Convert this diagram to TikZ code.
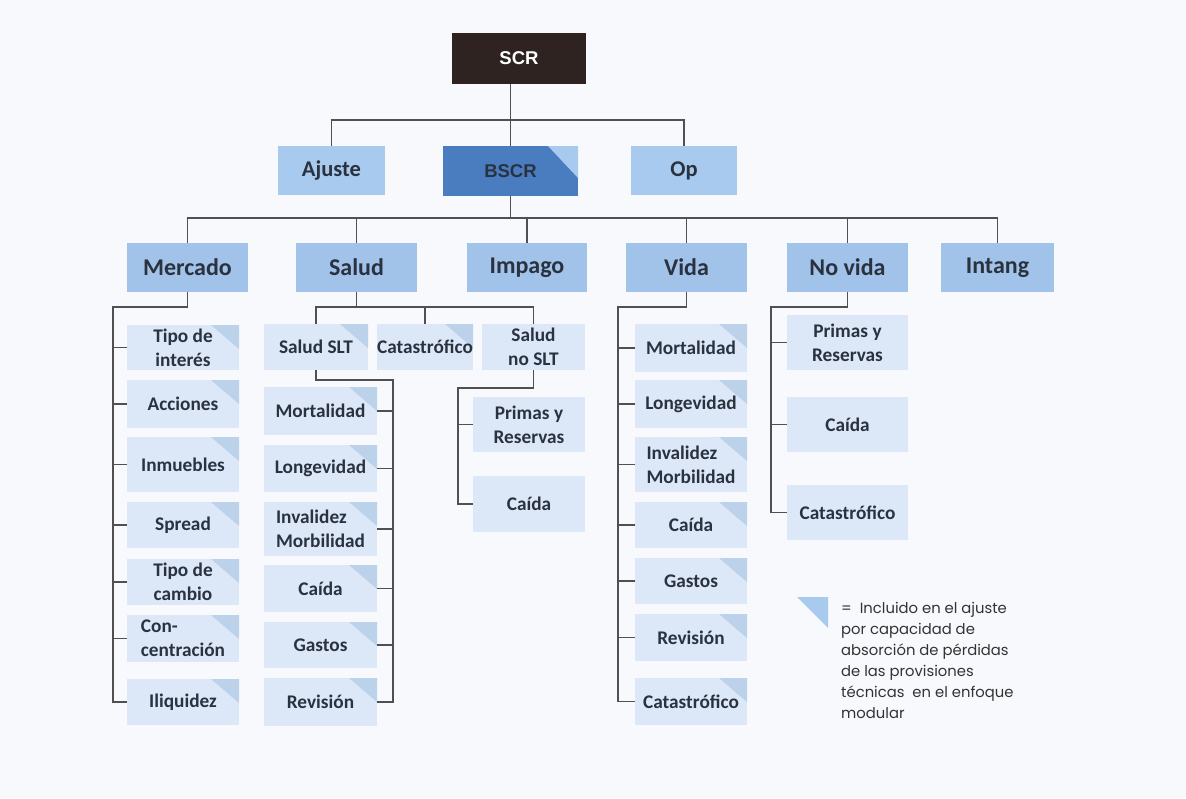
\documentclass[tikz,border=0pt]{standalone}
\usepackage{fontspec}
\newfontfamily\boxfont{Carlito}
\newfontfamily\headfont{Liberation Sans}
\newfontfamily\legfont{Poppins}
\usetikzlibrary{calc}

\definecolor{bgcol}{HTML}{F8F9FC}
\definecolor{topcol}{HTML}{2F2322}
\definecolor{midcol}{HTML}{A9CAEF}
\definecolor{bscrcol}{HTML}{4A7CC0}
\definecolor{rowcol}{HTML}{A2C3E9}
\definecolor{leafcol}{HTML}{DCE8F7}
\definecolor{tricol}{HTML}{BCD2EB}
\definecolor{txtcol}{HTML}{2A3240}
\definecolor{linecol}{HTML}{505050}

% place a box by its top-left and bottom-right corners
\newcommand\placebox[7]{%
  \node[#2, anchor=north west, minimum width={#5pt-#3pt}, minimum height={#6pt-#4pt}] (#1) at (#3,#4) {#7};}

\begin{document}
\begin{tikzpicture}[x=1pt,y=-1pt,
  base/.style={inner sep=0pt, outer sep=0pt, align=center, text=txtcol},
  topbox/.style={base, fill=topcol, text=white, font=\headfont\bfseries\fontsize{18.5}{22}\selectfont},
  midbox/.style={base, fill=midcol, font=\boxfont\bfseries\fontsize{22.5}{26}\selectfont},
  bscrbox/.style={base, fill=bscrcol, font=\headfont\bfseries\fontsize{18.5}{22}\selectfont,
    path picture={\fill[midcol] ([xshift=-30pt]path picture bounding box.north east) -- (path picture bounding box.north east) -- ([yshift=-32pt]path picture bounding box.north east) -- cycle;}},
  rowbox/.style={base, fill=rowcol, font=\boxfont\bfseries\fontsize{24}{28}\selectfont},
  leaf/.style={base, fill=leafcol, font=\boxfont\bfseries\fontsize{19.3}{24}\selectfont},
  leaftri/.style={leaf,
    path picture={\fill[tricol] ([xshift=-28pt]path picture bounding box.north east) -- (path picture bounding box.north east) -- ([yshift=-24pt]path picture bounding box.north east) -- cycle;}},
  conn/.style={draw=linecol, line width=1.1pt},
  legtext/.style={inner sep=0pt, anchor=north west, align=left, text=black!80,
    font=\legfont\fontsize{14.8}{21}\selectfont}
]
\useasboundingbox (0,0) rectangle (1186,798);
\fill[bgcol] (0,0) rectangle (1186,798);

% top levels
\placebox{scr}{topbox}{452}{33}{586}{84}{SCR}
\placebox{ajuste}{midbox}{278}{146}{385}{195}{Ajuste}
\placebox{bscr}{bscrbox}{443}{146}{578}{196}{BSCR}
\placebox{op}{midbox}{631}{146}{737}{195}{Op}

% risk modules
\placebox{mercado}{rowbox}{127}{243}{248}{292}{Mercado}
\placebox{salud}{rowbox}{296}{243}{417}{292}{Salud}
\placebox{impago}{rowbox}{467}{243}{587}{292}{Impago}
\placebox{vida}{rowbox}{626}{243}{747}{292}{Vida}
\placebox{novida}{rowbox}{787}{243}{908}{292}{No vida}
\placebox{intang}{rowbox}{941}{243}{1054}{292}{Intang}

% market sub-modules
\placebox{mti}{leaftri}{127}{325}{239}{370}{Tipo de\\interés}
\placebox{mac}{leaftri}{127}{380}{239}{428}{Acciones}
\placebox{min}{leaftri}{127}{437}{239}{492}{Inmuebles}
\placebox{msp}{leaftri}{127}{502}{239}{548}{Spread}
\placebox{mtc}{leaftri}{127}{559}{239}{605}{Tipo de\\cambio}
\placebox{mco}{leaftri,align=left}{127}{615}{239}{662}{Con-\\centración}
\placebox{mliq}{leaftri}{127}{679}{239}{725}{Iliquidez}

% health sub-modules
\placebox{sslt}{leaftri}{264}{324}{368}{370}{Salud SLT}
\placebox{scat}{leaftri}{377}{324}{473}{370}{Catastrófico}
\placebox{snoslt}{leaf}{482}{324}{585}{370}{Salud\\no SLT}

\placebox{smo}{leaftri}{264}{387}{377}{435}{Mortalidad}
\placebox{slo}{leaftri}{264}{445}{377}{492}{Longevidad}
\placebox{sin}{leaftri,align=left}{264}{502}{377}{556}{Invalidez\\Morbilidad}
\placebox{sca}{leaftri}{264}{565}{377}{612}{Caída}
\placebox{sga}{leaftri}{264}{622}{377}{668}{Gastos}
\placebox{sre}{leaftri}{264}{678}{377}{726}{Revisión}

\placebox{npr}{leaf}{473}{397}{585}{452}{Primas y\\Reservas}
\placebox{nca}{leaf}{473}{476}{585}{532}{Caída}

% life sub-modules
\placebox{vmo}{leaftri}{635}{324}{747}{372}{Mortalidad}
\placebox{vlo}{leaftri}{635}{380}{747}{428}{Longevidad}
\placebox{vin}{leaftri,align=left}{635}{437}{747}{492}{Invalidez\\Morbilidad}
\placebox{vca}{leaftri}{635}{502}{747}{548}{Caída}
\placebox{vga}{leaftri}{635}{558}{747}{604}{Gastos}
\placebox{vre}{leaftri}{635}{614}{747}{661}{Revisión}
\placebox{vcat}{leaftri}{635}{678}{747}{725}{Catastrófico}

% non-life sub-modules
\placebox{nvpr}{leaf}{787}{315}{908}{370}{Primas y\\Reservas}
\placebox{nvca}{leaf}{787}{397}{908}{452}{Caída}
\placebox{nvcat}{leaf}{787}{485}{908}{540}{Catastrófico}

% bus levels
\coordinate (b1) at (0,120);
\coordinate (b2) at (0,218);
\coordinate (sb) at (0,307);
\coordinate (mk) at (113,307);
\coordinate (sk) at (393,380);
\coordinate (nk) at (458,388);
\coordinate (vk) at (618,307);
\coordinate (nvk) at (771,307);

% connectors
\draw[conn] (bscr.north) -- (bscr.north |- scr.south);
\draw[conn] (ajuste.north) |- (op.north |- b1) -- (op.north);

\draw[conn] (mercado.north) |- (intang.north |- b2) -- (intang.north);
\foreach \n in {salud,impago,vida,novida}
  \draw[conn] (\n.north) -- (\n.north |- b2);
\draw[conn] (bscr.south) -- (bscr.south |- b2);

\draw[conn] (mercado.south) |- (mk) |- (mliq.west);
\foreach \n in {mti,mac,min,msp,mtc,mco}
  \draw[conn] (\n.west) -- (\n.west -| mk);

\draw[conn] (salud.south) -- (salud.south |- sb);
\draw[conn] (sslt.north) |- (sb -| snoslt.north) -- (snoslt.north);
\draw[conn] (scat.north) -- (scat.north |- sb);

\draw[conn] (sslt.south) |- (sk) |- (sre.east);
\foreach \n in {smo,slo,sin,sca,sga}
  \draw[conn] (\n.east) -- (\n.east -| sk);

\draw[conn] (snoslt.south) |- (nk) |- (nca.west);
\draw[conn] (npr.west) -- (npr.west -| nk);

\draw[conn] (vida.south) |- (vk) |- (vcat.west);
\foreach \n in {vmo,vlo,vin,vca,vga,vre}
  \draw[conn] (\n.west) -- (\n.west -| vk);

\draw[conn] (novida.south) |- (nvk) |- (nvcat.west);
\foreach \n in {nvpr,nvca}
  \draw[conn] (\n.west) -- (\n.west -| nvk);

% legend
\fill[midcol] (797,597) -- (828,597) -- (828,628) -- cycle;
\node[legtext] (legend) at (841,602) {=\ \ Incluido en el ajuste\\por capacidad de\\absorción de pérdidas\\de las provisiones\\técnicas\ \ en el enfoque\\modular};
\end{tikzpicture}
\end{document}
